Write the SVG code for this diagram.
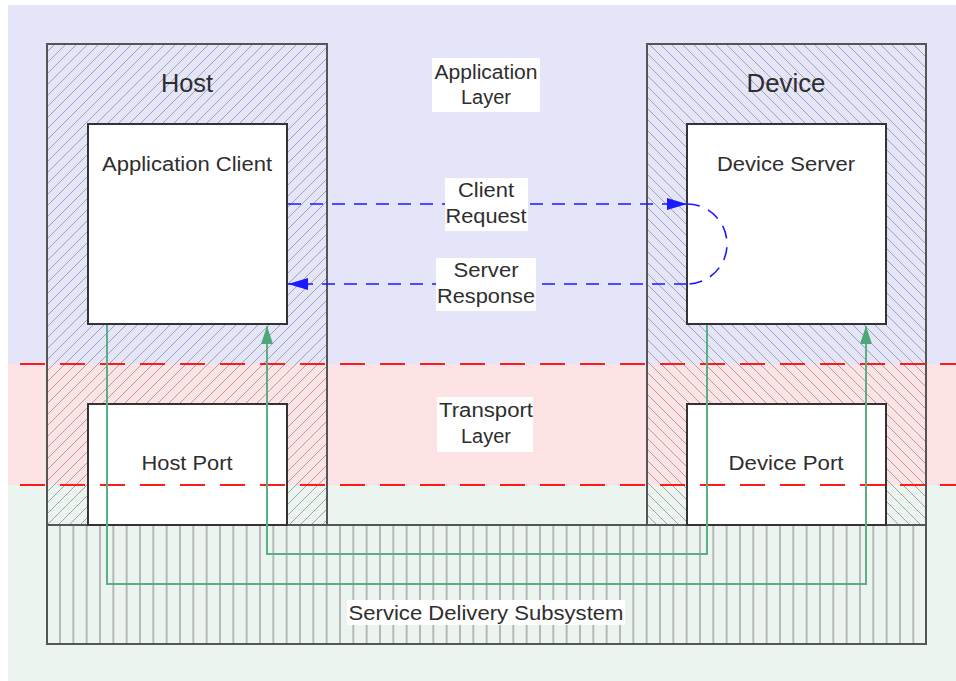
<svg xmlns="http://www.w3.org/2000/svg" width="956" height="681" viewBox="0 0 956 681">
<style>
.t{font-family:"Liberation Sans",Arial,sans-serif;fill:#2e2e2e;text-anchor:middle;font-size:20px}
.big{font-size:25px}
.frame{stroke:#555;stroke-width:2}
.box{fill:#fff;stroke:#333;stroke-width:2}
.lbl{fill:#fff}
.red{stroke:#ff1a1a;stroke-width:1.8;stroke-dasharray:25 15;stroke-dashoffset:28;fill:none}
.blue{stroke:#1a1aff;stroke-width:1.6;stroke-dasharray:13 9;fill:none}
.green{stroke:#5aaf84;stroke-width:2;fill:none}
</style>
<defs>
<pattern id="hatchF" patternUnits="userSpaceOnUse" width="11" height="11">
<path d="M0,11 L11,0 M-1,1 L1,-1 M10,12 L12,10" stroke="#a4a4a8" stroke-width="1"/>
</pattern>
<pattern id="hatchB" patternUnits="userSpaceOnUse" width="11" height="11">
<path d="M0,0 L11,11 M-1,10 L1,12 M10,-1 L12,1" stroke="#a4a4a8" stroke-width="1"/>
</pattern>
<pattern id="hatchV" patternUnits="userSpaceOnUse" x="53.333" y="0" width="13.333" height="20">
<path d="M6.667,0 V20" stroke="#9a9a9a" stroke-width="1.3"/>
</pattern>
<marker id="ab" markerUnits="userSpaceOnUse" markerWidth="22" markerHeight="14" refX="20" refY="6" orient="auto">
<path d="M0,0 L20,6 L0,12 z" fill="#1a1aff"/>
</marker>
<marker id="ag" markerUnits="userSpaceOnUse" markerWidth="20" markerHeight="14" refX="18" refY="6" orient="auto">
<path d="M0,0 L18,6 L0,12 z" fill="#4da878"/>
</marker>
</defs>
<rect width="956" height="681" fill="#fff"/>
<g id="layers">
<rect x="8" y="5" width="948" height="359" fill="#e5e5fa"/>
<rect x="8" y="364" width="948" height="121" fill="#fde3e3"/>
<rect x="8" y="485" width="948" height="196" fill="#ebf4ee"/>
</g>
<g id="host">
<rect x="47" y="44" width="280" height="481" fill="url(#hatchF)" class="frame"/>
<text class="t big" x="187" y="92" textLength="52" lengthAdjust="spacingAndGlyphs">Host</text>
</g>
<g id="device">
<rect x="647" y="44" width="279" height="481" fill="url(#hatchB)" class="frame"/>
<text class="t big" x="786" y="92" textLength="79" lengthAdjust="spacingAndGlyphs">Device</text>
</g>
<g id="sds">
<rect x="47" y="525" width="879" height="119" fill="url(#hatchV)" class="frame"/>
<rect class="lbl" x="347" y="600" width="278" height="25"/>
<text class="t" x="486" y="620" textLength="275" lengthAdjust="spacingAndGlyphs">Service Delivery Subsystem</text>
</g>
<g id="app-client">
<rect class="box" x="88" y="124" width="199" height="200"/>
<text class="t" x="187" y="171" textLength="170" lengthAdjust="spacingAndGlyphs">Application Client</text>
</g>
<g id="device-server">
<rect class="box" x="687" y="124" width="199" height="200"/>
<text class="t" x="786" y="171" textLength="138" lengthAdjust="spacingAndGlyphs">Device Server</text>
</g>
<g id="host-port">
<rect class="box" x="88" y="404" width="199" height="121"/>
<text class="t" x="187" y="470" textLength="91" lengthAdjust="spacingAndGlyphs">Host Port</text>
</g>
<g id="device-port">
<rect class="box" x="687" y="404" width="199" height="121"/>
<text class="t" x="786" y="470" textLength="115" lengthAdjust="spacingAndGlyphs">Device Port</text>
</g>
<g id="layer-borders">
<path class="red" d="M8,364 H956"/>
<path class="red" d="M8,485 H956"/>
</g>
<g id="connectors">
<path class="green" d="M107,325 V584 H866 V326" marker-end="url(#ag)"/>
<path class="green" d="M707,325 V554 H267 V326" marker-end="url(#ag)"/>
<path class="blue" d="M288,204 H687" marker-end="url(#ab)"/>
<path class="blue" d="M687,204 A40,40 0 0 1 687,284"/>
<path class="blue" d="M687,284 H288" marker-end="url(#ab)"/>
</g>
<g id="app-layer-label">
<rect class="lbl" x="432" y="58" width="108" height="54"/>
<text class="t" x="486" y="79" textLength="103" lengthAdjust="spacingAndGlyphs">Application</text>
<text class="t" x="486" y="104">Layer</text>
</g>
<g id="transport-layer-label">
<rect class="lbl" x="437" y="397" width="96" height="55"/>
<text class="t" x="486" y="417" textLength="94" lengthAdjust="spacingAndGlyphs">Transport</text>
<text class="t" x="486" y="443">Layer</text>
</g>
<g id="client-request-label">
<rect class="lbl" x="445" y="178" width="83" height="53"/>
<text class="t" x="486" y="197" textLength="56" lengthAdjust="spacingAndGlyphs">Client</text>
<text class="t" x="486" y="223" textLength="81" lengthAdjust="spacingAndGlyphs">Request</text>
</g>
<g id="server-response-label">
<rect class="lbl" x="436" y="258" width="100" height="53"/>
<text class="t" x="486" y="277" textLength="65" lengthAdjust="spacingAndGlyphs">Server</text>
<text class="t" x="486" y="303" textLength="98" lengthAdjust="spacingAndGlyphs">Response</text>
</g>
</svg>
